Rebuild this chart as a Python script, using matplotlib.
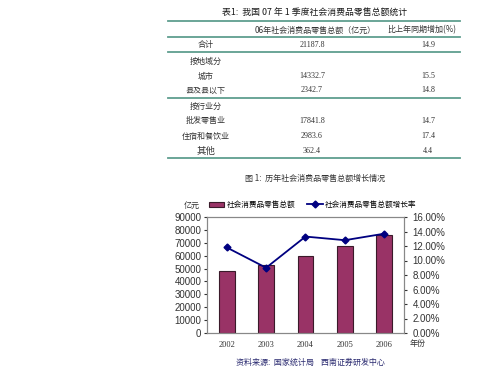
import matplotlib
matplotlib.use("Agg")
import matplotlib.pyplot as plt
from matplotlib.lines import Line2D
from matplotlib.ticker import PercentFormatter

plt.rcParams['font.family'] = ['Noto Sans CJK SC', 'DejaVu Sans']

# table data
table_title = "表1:  我国 07 年 1 季度社会消费品零售总额统计"
col_headers = ["06年社会消费品零售总额（亿元）", "比上年同期增加(%)"]
row_labels = ["合计", "按地域分", "城市", "县及县以下", "按行业分", "批发零售业", "住宿和餐饮业", "其他"]
row_totals = ["21187.8", "", "14332.7", "2342.7", "", "17841.8", "2983.6", "362.4"]
row_growth = ["14.9", "", "15.5", "14.8", "", "14.7", "17.4", "4.4"]

# chart data
chart_title = "图 1:  历年社会消费品零售总额增长情况"
years = ["2002", "2003", "2004", "2005", "2006"]
sales = [48100, 52500, 59500, 67200, 76400]
growth = [11.8, 9.0, 13.3, 12.8, 13.7]
source = "资料来源:  国家统计局    西南证券研发中心"

W, H = 499, 375
fig = plt.figure(figsize=(W / 100, H / 100), dpi=100)
fig.patch.set_facecolor("white")

def fx(px):
    return px / W

def fy(py):
    return 1 - py / H

# ---- table ----
fig.text(fx(315), fy(13), table_title, ha="center", va="center", fontsize=6.4, color="#1a1a1a")
line_col = "#5f9e8f"
for y in [21, 37, 52, 98, 158]:
    fig.add_artist(Line2D([fx(168), fx(460)], [fy(y), fy(y)], color=line_col, lw=1.3))
fig.text(fx(315), fy(30), col_headers[0], ha="center", va="center", fontsize=5.8, color="#333333")
fig.text(fx(422), fy(30), col_headers[1], ha="center", va="center", fontsize=5.8, color="#333333")
row_y = [45, 61, 76, 90, 106, 121, 136, 151]
for lab, tot, gr, y in zip(row_labels, row_totals, row_growth, row_y):
    fs = 6.8 if lab == "其他" else 5.8
    fig.text(fx(206), fy(y), lab, ha="center", va="center", fontsize=fs, color="#333333")
    fig.text(fx(312), fy(y), tot, ha="center", va="center", fontsize=5.8, color="#333333",
             family="Liberation Serif")
    fig.text(fx(428), fy(y), gr, ha="center", va="center", fontsize=5.8, color="#333333",
             family="Liberation Serif")

# ---- chart ----
fig.text(fx(315), fy(178), chart_title, ha="center", va="center", fontsize=5.8, color="#333333")

ax = fig.add_axes([fx(207), fy(333), fx(404) - fx(207), fy(217) - fy(333)])
x = range(len(years))
bars = ax.bar(x, sales, width=0.4, color="#993366", edgecolor="#3a1a2a", linewidth=0.8,
              label="社会消费品零售总额")
ax.set_ylim(0, 90000)
ax.set_yticks(range(0, 90001, 10000))
ax.set_xlim(-0.5, len(years) - 0.5)
ax.set_xticks(list(x))
ax.set_xticklabels(years, fontsize=6, family="Liberation Serif", color="#333333")
ax.tick_params(axis="y", labelsize=7, length=2, colors="#333333", pad=2)
ax.tick_params(axis="x", length=0, pad=6)
for lbl in ax.get_yticklabels():
    lbl.set_family("Liberation Sans")
for s in ax.spines.values():
    s.set_color("#888888")
    s.set_linewidth(0.8)

ax2 = ax.twinx()
ln, = ax2.plot(list(x), growth, color="#000080", marker="D", markersize=3.5, lw=1.3,
               label="社会消费品零售总额增长率")
ax2.set_ylim(0, 16)
ax2.set_yticks(range(0, 17, 2))
ax2.yaxis.set_major_formatter(PercentFormatter(decimals=2))
ax2.tick_params(axis="y", labelsize=7, length=2, colors="#333333", pad=4)
for lbl in ax2.get_yticklabels():
    lbl.set_family("Liberation Sans")
for s in ax2.spines.values():
    s.set_color("#888888")
    s.set_linewidth(0.8)

fig.text(fx(192), fy(205), "亿元", ha="center", va="center", fontsize=5.8, color="#333333")
fig.text(fx(410), fy(343), "年份", ha="left", va="center", fontsize=5.8, color="#333333")
fig.legend(handles=[bars, ln], loc="center left", bbox_to_anchor=(fx(209), fy(205)),
           ncol=2, frameon=False, fontsize=5.5, handlelength=2.0, handleheight=0.6,
           columnspacing=1.6, handletextpad=0.3, borderaxespad=0, borderpad=0)

fig.text(fx(310), fy(362), source, ha="center", va="center", fontsize=5.8, color="#2a2a70")

fig.savefig("out.png", dpi=100)
